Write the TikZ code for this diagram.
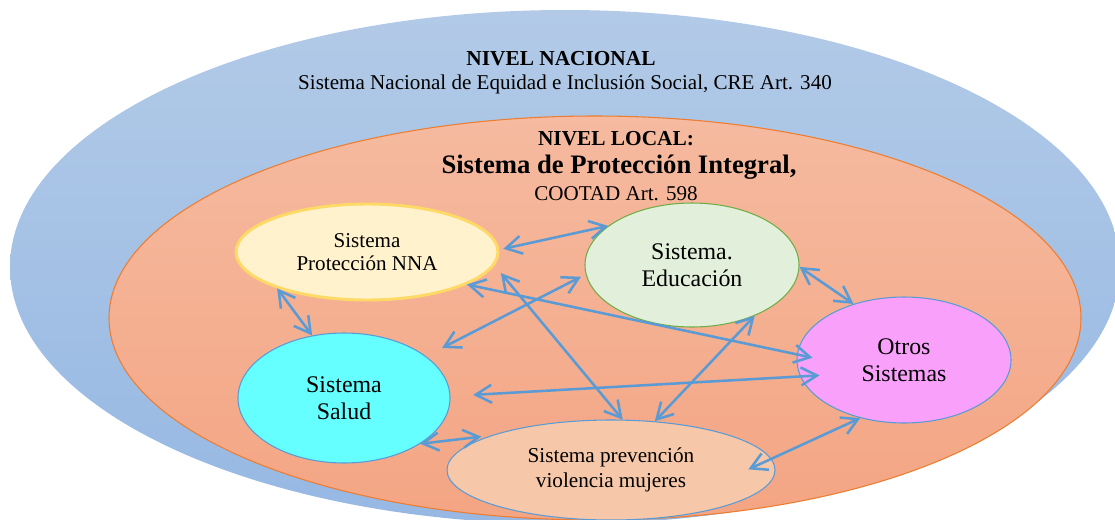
\documentclass[tikz,border=0pt]{standalone}
\usepackage{fontspec}
\setmainfont{Liberation Serif}
\usetikzlibrary{shapes.geometric, arrows.meta}
\tikzset{>={Straight Barb[length=12pt,width=13.5pt]}}

\definecolor{blue_top}{HTML}{B2CAE7}
\definecolor{blue_bottom}{HTML}{96B8E3}
\definecolor{orange_top}{HTML}{F5BAA0}
\definecolor{orange_bottom}{HTML}{F4A583}
\definecolor{orange_line}{HTML}{ED7D31}
\definecolor{link_blue}{HTML}{5B9BD5}
\definecolor{nna_fill}{HTML}{FFF2CC}
\definecolor{nna_line}{HTML}{FFD966}
\definecolor{edu_fill}{HTML}{E2EFDA}
\definecolor{edu_line}{HTML}{70AD47}
\definecolor{otros_fill}{HTML}{F9A1FA}
\definecolor{salud_fill}{HTML}{66FFFF}
\definecolor{prev_fill}{HTML}{F6C8A9}

\begin{document}
\begin{tikzpicture}[x=0.75pt, y=-0.75pt,
sys_node/.style={ellipse, draw=link_blue, line width=0.8pt, inner sep=0pt, align=center},
link_arrow/.style={<->, draw=link_blue, line width=1.9pt},
title_text/.style={anchor=base, font=\bfseries\fontsize{16}{18}\selectfont},
plain_text/.style={anchor=base, font=\fontsize{15.8}{18}\selectfont}]
    \clip (0,0) rectangle (1115,519);

    % levels
    \shade[top color=blue_top, bottom color=blue_bottom] (565,267) ellipse [x radius=555, y radius=257];
    \shade[top color=orange_top, bottom color=orange_bottom] (595,318) ellipse [x radius=486, y radius=202];
    \draw[orange_line, line width=0.8pt] (595,318) ellipse [x radius=486, y radius=202];

    \node[title_text] (nac_title) at (561,65) {NIVEL NACIONAL};
    \node[plain_text] (nac_text) at (565,89) {Sistema Nacional de Equidad e Inclusión Social, CRE Art. 340};
    \node[title_text] (loc_title) at (616,145) {NIVEL LOCAL:};
    \node[title_text, font=\bfseries\fontsize{20}{22}\selectfont] (loc_name) at (619,173) {Sistema de Protección Integral,};
    \node[plain_text] (loc_law) at (616,200) {COOTAD Art. 598};

    % systems
    \node[sys_node, draw=nna_line, line width=2.2pt, fill=nna_fill, minimum width=196.5pt, minimum height=72pt, font=\fontsize{15.8}{17.3}\selectfont] (nna) at (367,252) {Sistema\\Protección NNA};
    \node[sys_node, draw=edu_line, fill=edu_fill, minimum width=160.5pt, minimum height=93pt, font=\fontsize{17.9}{20.6}\selectfont] (edu) at (692,265) {Sistema.\\Educación};
    \node[sys_node, fill=otros_fill, minimum width=160.5pt, minimum height=94.5pt, font=\fontsize{17.9}{20.6}\selectfont] (otros) at (904,360) {Otros\\Sistemas};
    \node[sys_node, fill=salud_fill, minimum width=159pt, minimum height=97.5pt, font=\fontsize{17.9}{20.6}\selectfont] (salud) at (344,398) {Sistema\\Salud};
    \node[sys_node, fill=prev_fill, minimum width=246pt, minimum height=75pt, font=\fontsize{15.9}{18.8}\selectfont] (prev) at (611,470) {Sistema prevención\\violencia mujeres};

    % links
    \draw[link_arrow, shorten <=3pt] (nna.1) -- (edu.155);
    \draw[link_arrow] (nna.202) -- (salud.117);
    \draw[link_arrow, shorten >=-12pt] (nna.-18) -- (otros.177);
    \draw[link_arrow, shorten <=7.5pt] (nna.-6) -- (prev.77);
    \draw[link_arrow, shorten <=13.5pt, shorten >=4pt] (salud.27) -- (edu.185);
    \draw[link_arrow, shorten <=17pt, shorten >=-14.6pt] (salud.1) -- (otros.189);
    \draw[link_arrow] (edu.-39) -- (prev.48);
    \draw[link_arrow] (edu.-1) -- (otros.132);
    \draw[link_arrow, shorten >=7pt] (salud.-31) -- (prev.164);
    \draw[link_arrow, shorten <=-19pt] (prev.4) -- (otros.233);
\end{tikzpicture}
\end{document}
